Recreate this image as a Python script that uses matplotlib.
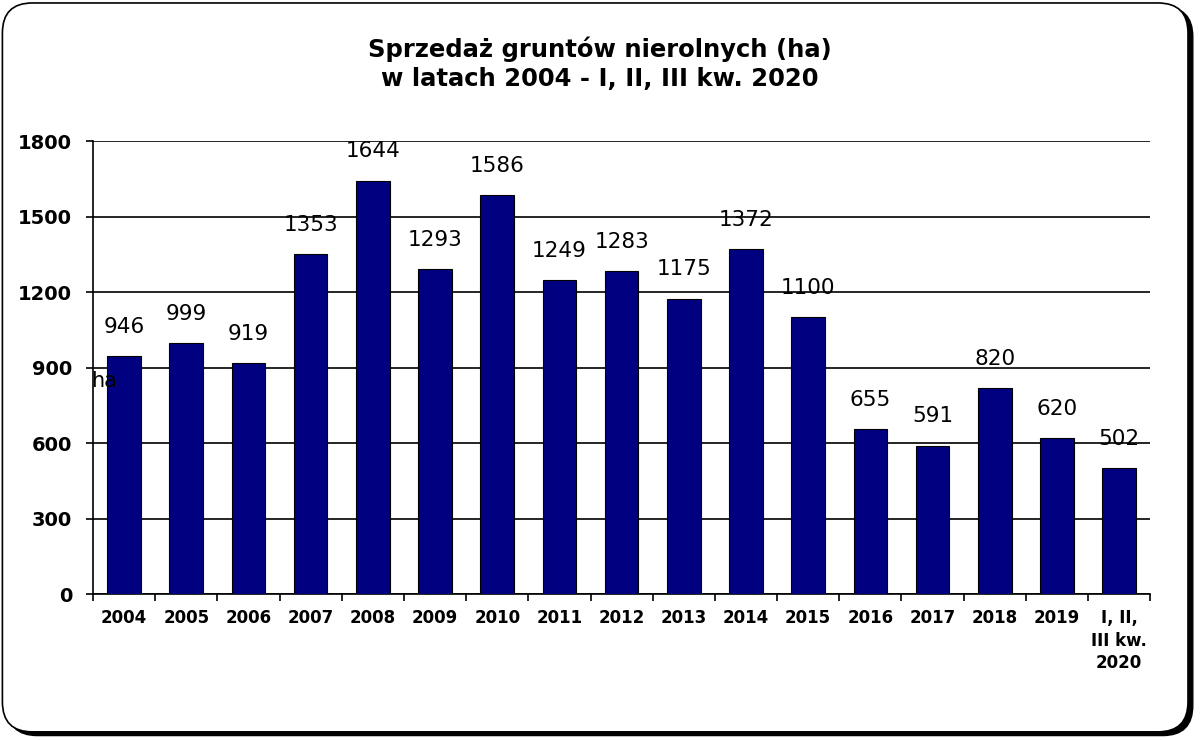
import matplotlib.pyplot as plt
from matplotlib.patches import FancyBboxPatch
import numpy as np

plt.rcParams['font.family'] = ['DejaVu Sans']

years = ['2004', '2005', '2006', '2007', '2008', '2009', '2010', '2011', '2012',
         '2013', '2014', '2015', '2016', '2017', '2018', '2019', 'I, II,\nIII kw.\n2020']
values = [946, 999, 919, 1353, 1644, 1293, 1586, 1249, 1283,
          1175, 1372, 1100, 655, 591, 820, 620, 502]
yticks = [0, 300, 600, 900, 1200, 1500, 1800]

fig = plt.figure(figsize=(12, 7.4), dpi=100)

# rounded frame with shadow
shadow = FancyBboxPatch((0.006, 0.006), 0.988, 0.985, boxstyle='round,pad=0,rounding_size=0.025',
                        transform=fig.transFigure, facecolor='black', edgecolor='black',
                        mutation_aspect=12 / 7.4, zorder=0)
frame = FancyBboxPatch((0.002, 0.011), 0.988, 0.985, boxstyle='round,pad=0,rounding_size=0.025',
                       transform=fig.transFigure, facecolor='white', edgecolor='black', lw=1.2,
                       mutation_aspect=12 / 7.4, zorder=1)
fig.patches.extend([shadow, frame])

ax = fig.add_axes([0.0775, 0.197, 0.881, 0.612])
ax.set_zorder(2)
ax.patch.set_alpha(0)

x = np.arange(len(years))
ax.bar(x, values, width=0.54, color='#000080', edgecolor='black', linewidth=0.8, zorder=3)

for xi, v in zip(x, values):
    ax.annotate(str(v), (xi, v), xytext=(0, 21), textcoords='offset points',
                ha='center', va='center', fontsize=15.5)

ax.set_xlim(-0.5, len(years) - 0.5)
ax.set_ylim(0, 1800)
ax.set_yticks(yticks)
ax.set_yticklabels([str(t) for t in yticks], fontsize=14, fontweight='bold')
ax.yaxis.grid(True, color='black', linewidth=1.2, zorder=0)
ax.set_axisbelow(True)

ax.set_xticks(x)
ax.set_xticklabels(years, fontsize=12, fontweight='bold', va='top', linespacing=1.3)
ax.tick_params(axis='x', length=0, pad=11)
ax.set_xticks(np.arange(len(years) + 1) - 0.5, minor=True)
ax.tick_params(axis='x', which='minor', length=5, width=1.2, direction='out')
ax.tick_params(axis='y', length=5, width=1.2, direction='out', pad=10)

for s in ['top', 'right']:
    ax.spines[s].set_visible(False)
for s in ['left', 'bottom']:
    ax.spines[s].set_linewidth(1.2)

fig.text(0.087, 0.485, 'ha', fontsize=15, ha='center', va='center', zorder=5)

fig.text(0.5, 0.914, 'Sprzedaż gruntów nierolnych (ha)\nw latach 2004 - I, II, III kw. 2020',
         ha='center', va='center', fontsize=17.5, fontweight='bold', linespacing=1.3)

fig.savefig('out.png', dpi=100)
